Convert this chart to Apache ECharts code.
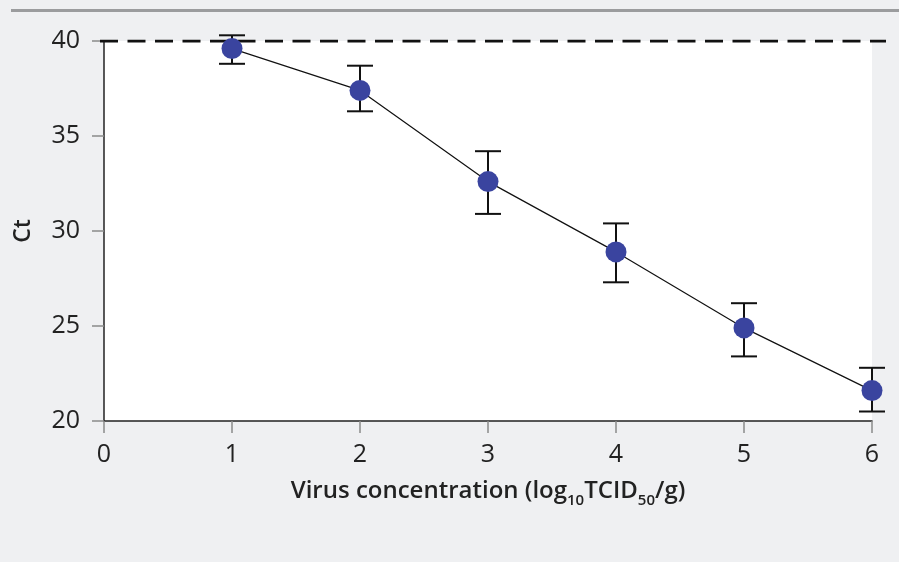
<!DOCTYPE html>
<html>
<head>
<meta charset="utf-8">
<script src="https://cdn.jsdelivr.net/npm/echarts@6/dist/echarts.min.js"></script>
<style>
html,body{margin:0;padding:0;background:#eff0f2;}
#c{width:899px;height:562px;}
</style>
</head>
<body>
<div id="c"></div>
<script>
// ---- data ----
const concentrations = [1, 2, 3, 4, 5, 6];
const ctMean  = [39.6, 37.4, 32.6, 28.9, 24.9, 21.6];
const ctUpper = [40.3, 38.7, 34.2, 30.4, 26.2, 22.8];
const ctLower = [38.8, 36.3, 30.9, 27.3, 23.4, 20.5];
const cutoff = 40;
const xTicks = [0, 1, 2, 3, 4, 5, 6];
const yTicks = [20, 25, 30, 35, 40];

const FONT = '"Open Sans", sans-serif';
const chart = echarts.init(document.getElementById('c'));

const meanPts = concentrations.map((x, i) => [x, ctMean[i]]);
const errPts = concentrations.map((x, i) => [x, ctLower[i], ctUpper[i]]);

chart.setOption({
  backgroundColor: '#eff0f2',
  animation: false,
  graphic: [{
    type: 'line', shape: {x1: 11, y1: 10.5, x2: 899, y2: 10.5},
    style: {stroke: '#9b9c9e', lineWidth: 3}
  }],
  grid: [
    {left: 104, right: 27, top: 41, bottom: 141, show: true, backgroundColor: '#ffffff', borderWidth: 0},
    {left: 100, right: 13, top: 41, bottom: 141}
  ],
  xAxis: [{
    gridIndex: 0, type: 'value', min: xTicks[0], max: xTicks[xTicks.length - 1], interval: 1,
    axisLine: {show: true, onZero: false, lineStyle: {color: '#222', width: 1.5}},
    axisTick: {show: true, length: 12, lineStyle: {color: '#8a8a8a', width: 1.5}},
    splitLine: {show: false},
    axisLabel: {color: '#222', fontSize: 25, fontFamily: FONT, margin: 21},
    name: '{a|Virus concentration (log}{s|10}{a|TCID}{s|50}{a|/g)}',
    nameLocation: 'middle', nameGap: 53,
    nameTextStyle: {
      rich: {
        a: {fontSize: 24, fontWeight: 600, fontFamily: FONT, color: '#222', lineHeight: 34},
        s: {fontSize: 15, fontWeight: 600, fontFamily: FONT, color: '#222', lineHeight: 14, verticalAlign: 'bottom'}
      }
    }
  }, {
    gridIndex: 1, type: 'value', min: 0, max: 1, show: false
  }],
  yAxis: [{
    gridIndex: 0, type: 'value', min: yTicks[0], max: yTicks[yTicks.length - 1], interval: 5,
    axisLine: {show: true, onZero: false, lineStyle: {color: '#222', width: 1.5}},
    axisTick: {show: true, length: 12, lineStyle: {color: '#8a8a8a', width: 1.5}},
    splitLine: {show: false},
    axisLabel: {color: '#222', fontSize: 25, fontFamily: FONT, margin: 24},
    name: 'Ct', nameLocation: 'middle', nameGap: 69, nameRotate: 90,
    nameTextStyle: {fontSize: 23, fontWeight: 600, fontFamily: FONT, color: '#222'}
  }, {
    gridIndex: 1, type: 'value', min: yTicks[0], max: yTicks[yTicks.length - 1], show: false
  }],
  series: [
    {
      type: 'line', xAxisIndex: 1, yAxisIndex: 1, z: 1,
      data: [[0, cutoff], [1, cutoff]], symbol: 'none',
      lineStyle: {color: '#111', width: 3, type: [18, 9.5]}
    },
    {
      type: 'custom', xAxisIndex: 0, yAxisIndex: 0, z: 3,
      data: errPts,
      renderItem: function (params, api) {
        const x = api.value(0);
        const lo = api.coord([x, api.value(1)]);
        const hi = api.coord([x, api.value(2)]);
        const hw = 13;
        const st = {stroke: '#111', lineWidth: 2};
        return {
          type: 'group',
          children: [
            {type: 'line', shape: {x1: lo[0], y1: lo[1], x2: hi[0], y2: hi[1]}, style: st},
            {type: 'line', shape: {x1: lo[0] - hw, y1: lo[1], x2: lo[0] + hw, y2: lo[1]}, style: st},
            {type: 'line', shape: {x1: hi[0] - hw, y1: hi[1], x2: hi[0] + hw, y2: hi[1]}, style: st}
          ]
        };
      }
    },
    {
      type: 'line', xAxisIndex: 0, yAxisIndex: 0, z: 5,
      data: meanPts, symbol: 'circle', symbolSize: 21,
      lineStyle: {color: '#111', width: 1.2},
      itemStyle: {color: '#3a449f', borderWidth: 0}
    }
  ]
});
</script>
</body>
</html>
